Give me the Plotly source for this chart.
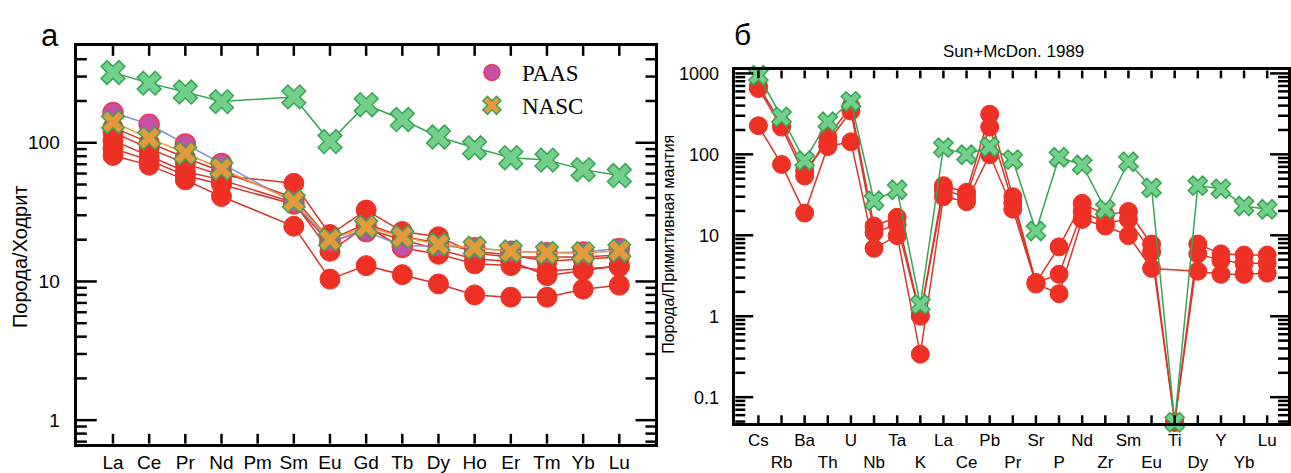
import math
import plotly.graph_objects as go

W, H = 1291, 473

# ---------- panel а: chondrite-normalised REE ----------
ree = ["La", "Ce", "Pr", "Nd", "Pm", "Sm", "Eu", "Gd", "Tb", "Dy", "Ho", "Er", "Tm", "Yb", "Lu"]

ree_samples = [
    [81, 69, 54, 41, None, 25, 10.4, 13.0, 11.2, 9.6, 8.0, 7.7, 7.7, 8.8, 9.4],
    [91, 75, 58, 50, None, 36, 19, 24, 20, 17, 14.5, 14, 11, 12, 13],
    [104, 80, 62, 54, None, 37, 16.5, 25, 17.5, 15.7, 13.4, 13, 11.9, 12.3, 12.8],
    [119, 91, 71, 58, None, 51, 21.8, 32.7, 22.9, 21, 16, 15, 15, 15, 15.5],
    [129, 100, 78, 62, None, 40, 20, 26, 21, 19, 16.5, 15.5, 14, 14.5, 15],
]
ree_paas = [165, 136, 98, 71, None, 37, 19.5, 22.9, 18, 18, 17.5, 16.5, 16.1, 16.3, 17.3]
ree_nasc = [141, 108, 84, 65, None, 38, 20, 24.8, 21, 18.5, 17.5, 16.5, 16.1, 16, 16.7]
ree_upper = [321, 269, 232, 198, None, 214, 102, 188, 147, 110, 92, 78, 75, 64, 58]

# ---------- panel б: primitive-mantle-normalised spider ----------
spider = ["Cs", "Rb", "Ba", "Th", "U", "Nb", "Ta", "K", "La", "Ce", "Pb", "Pr",
          "Sr", "P", "Nd", "Zr", "Sm", "Eu", "Ti", "Dy", "Y", "Yb", "Lu"]

spider_samples = [
    [650, 217, 54, 165, 390, 13, 16.7, 1.03, 41, 34, 313, 30,
     2.6, 7.2, 24.8, 18, 19.7, 7.8, 0.049, 7.8, 5.9, 5.7, 5.7],
    [700, 238, 63, 140, 343, 10.8, 13.6, 1.0, 36, 30, 217, 25,
     2.6, 3.3, 19.7, 14.3, 15.7, 6.2, 0.049, 5.9, 4.9, 4.5, 4.5],
    [226, 75, 18.8, 125, 143, 6.9, 9.9, 0.34, 30, 26, 99, 21,
     2.5, 1.9, 15.7, 13, 9.9, 3.9, None, 3.6, 3.3, 3.3, 3.4],
]
spider_ref = [950, 290, 84, 253, 452, 26.7, 36.5, 1.40, 121, 99, 124, 86,
              11.3, 92, 74, 21, 81, 38.5, 0.049, 41, 37.5, 23, 21]

RED = "#ee3124"
RED_LINE = "#d8362b"
GREEN = "#37a553"
GREEN_FILL = "#72d08a"

PAAS_MARKER = dict(symbol="circle", size=20, color="#c64fa8", line=dict(color="#ee3a4e", width=1.5))
NASC_MARKER = dict(symbol="x", size=20, color="#e49a3a", line=dict(color="#3ea35a", width=1.5))

fig = go.Figure()

# panel а traces
for vals in ree_samples:
    fig.add_trace(go.Scatter(
        x=ree, y=vals, mode="lines+markers", connectgaps=True, showlegend=False,
        line=dict(color=RED_LINE, width=1.5),
        marker=dict(symbol="circle", size=20, color=RED, line=dict(color=RED, width=1)),
        xaxis="x", yaxis="y"))

fig.add_trace(go.Scatter(
    x=ree, y=ree_paas, mode="lines+markers", connectgaps=True, showlegend=False,
    line=dict(color="#8594d6", width=1.5), marker=PAAS_MARKER,
    xaxis="x", yaxis="y"))

fig.add_trace(go.Scatter(
    x=ree, y=ree_nasc, mode="lines+markers", connectgaps=True, showlegend=False,
    line=dict(color="#f29a3a", width=1.5), marker=NASC_MARKER,
    xaxis="x", yaxis="y"))

fig.add_trace(go.Scatter(
    x=ree, y=ree_upper, mode="lines+markers", connectgaps=True, showlegend=False,
    line=dict(color=GREEN, width=1.5),
    marker=dict(symbol="x", size=21, color=GREEN_FILL, line=dict(color=GREEN, width=1.5)),
    xaxis="x", yaxis="y"))

# legend entries: marker-only symbols
fig.add_trace(go.Scatter(x=[None], y=[None], mode="markers", name="PAAS",
                         marker=PAAS_MARKER, xaxis="x", yaxis="y", legendgroup="a"))
fig.add_trace(go.Scatter(x=[None], y=[None], mode="markers", name="NASC",
                         marker=NASC_MARKER, xaxis="x", yaxis="y", legendgroup="b"))

# panel б traces
for vals in spider_samples:
    fig.add_trace(go.Scatter(
        x=spider, y=vals, mode="lines+markers", connectgaps=True, showlegend=False,
        cliponaxis=False,
        line=dict(color=RED_LINE, width=1.5),
        marker=dict(symbol="circle", size=18, color=RED, line=dict(color=RED, width=1)),
        xaxis="x2", yaxis="y2"))

fig.add_trace(go.Scatter(
    x=spider, y=spider_ref, mode="lines+markers", connectgaps=True, showlegend=False,
    cliponaxis=False,
    line=dict(color=GREEN, width=1.5),
    marker=dict(symbol="x", size=17, color=GREEN_FILL, line=dict(color=GREEN, width=1.5)),
    xaxis="x2", yaxis="y2"))


def px_x(p):
    return p / W


def px_y(p):
    return 1 - p / H


# plot frames in pixels: left, right, top, bottom
FRAME_A = (77, 657, 40, 447)
FRAME_B = (737, 1291, 65, 426)
XA_RANGE = [-1, 15]
XB_RANGE = [-1, 22.9]
YA_RANGE = [-0.169, 2.697]
YB_RANGE = [-1.32, 3.036]
YA_MAJOR = [1, 10, 100]
YB_MAJOR = [0.1, 1, 10, 100, 1000]


def minor_vals(lo, hi):
    out = []
    dec = 0.01
    while dec < 10000:
        for m in range(2, 10):
            v = round(m * dec, 6)
            if lo <= v <= hi:
                out.append(v)
        dec *= 10
    return out


def seg(x0, y0, x1, y1):
    return dict(type="line", xref="paper", yref="paper", layer="above",
                x0=px_x(x0), y0=px_y(y0), x1=px_x(x1), y1=px_y(y1),
                line=dict(color="black", width=2.5))


def frame_ticks(frame, xrng, ncat, yrng, majors, major_len, x_len):
    """Inward tick marks on all four sides of a frame."""
    L, R, T, B = frame
    out = []
    lo, hi = 10 ** yrng[0], 10 ** yrng[1]
    ylist = [(v, major_len) for v in majors] + [(v, 10) for v in minor_vals(lo, hi)]
    for v, ln in ylist:
        yp = B - (math.log10(v) - yrng[0]) / (yrng[1] - yrng[0]) * (B - T)
        out.append(seg(L, yp, L + ln, yp))
        out.append(seg(R, yp, R - ln, yp))
    for i in range(ncat):
        xp = L + (i - xrng[0]) / (xrng[1] - xrng[0]) * (R - L)
        out.append(seg(xp, B, xp, B - x_len))
        out.append(seg(xp, T, xp, T + x_len))
    return out


def ylabels(vals):
    # trailing no-break spaces keep labels clear of the inward ticks
    return [("%g" % v) + "\u00a0\u00a0" for v in vals]


AX = dict(showline=True, linecolor="black", linewidth=2.5, mirror=True,
          ticks="", showgrid=False, zeroline=False)
FONT = "Liberation Sans, Arial, sans-serif"

odd_br = [("<br>" + s) if i % 2 else s for i, s in enumerate(spider)]


def note(text, x, y, size, angle=0):
    return dict(text=text, x=px_x(x), y=px_y(y), xref="paper", yref="paper",
                xanchor="center", yanchor="middle", showarrow=False,
                textangle=angle, font=dict(size=size))


shapes = (frame_ticks(FRAME_A, XA_RANGE, len(ree), YA_RANGE, YA_MAJOR, 20, 10)
          + frame_ticks(FRAME_B, XB_RANGE, len(spider), YB_RANGE, YB_MAJOR, 18, 8))

fig.update_layout(
    width=W, height=H, margin=dict(l=0, r=0, t=0, b=0),
    paper_bgcolor="white", plot_bgcolor="white",
    font=dict(family=FONT, color="black"),
    xaxis=dict(AX, type="category", categoryorder="array", categoryarray=ree,
               range=XA_RANGE, domain=[px_x(FRAME_A[0]), px_x(FRAME_A[1])], anchor="y",
               tickfont=dict(size=19), tickangle=0),
    yaxis=dict(AX, type="log", range=YA_RANGE,
               domain=[px_y(FRAME_A[3]), px_y(FRAME_A[2])], anchor="x",
               tickmode="array", tickvals=YA_MAJOR, ticktext=ylabels(YA_MAJOR),
               tickfont=dict(size=19)),
    xaxis2=dict(AX, type="category", categoryorder="array", categoryarray=spider,
                range=XB_RANGE, domain=[px_x(FRAME_B[0]), px_x(FRAME_B[1])], anchor="y2",
                tickmode="array", tickvals=spider, ticktext=odd_br, tickangle=0,
                tickfont=dict(size=17)),
    yaxis2=dict(AX, type="log", range=YB_RANGE,
                domain=[px_y(FRAME_B[3]), px_y(FRAME_B[2])], anchor="x2",
                tickmode="array", tickvals=YB_MAJOR, ticktext=ylabels(YB_MAJOR),
                tickfont=dict(size=18)),
    legend=dict(x=px_x(463), y=px_y(45), xanchor="left", yanchor="top",
                bgcolor="rgba(0,0,0,0)", itemsizing="trace", tracegroupgap=0,
                itemwidth=50,
                font=dict(family="Liberation Serif, Times New Roman, serif", size=23)),
    shapes=shapes,
    annotations=[
        note("а", 50, 29, 31),
        note("б", 744, 28, 30),
        note("Sun+McDon. 1989", 1016, 46, 17),
        note("Порода/Ходрит", 20, 255, 20, -90),
        note("Порода/Примитивная мантия", 670, 243, 16, -90),
    ],
)

fig.write_html("out.html")
